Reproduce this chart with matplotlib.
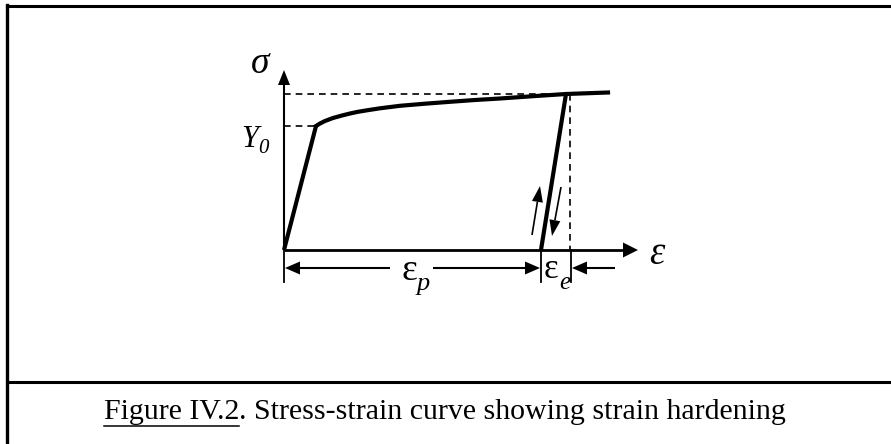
import matplotlib
matplotlib.use("Agg")
import matplotlib.pyplot as plt
from matplotlib.patches import Polygon
import numpy as np

# Schematic stress-strain curve (drawing units: pixels, y downward)
origin = (284, 250)
yield_pt = (316, 126)
harden_x = [316, 320, 325, 333, 342, 350, 358, 367, 380, 400, 425, 450, 475, 500, 533, 566, 608]
harden_y = [126, 123.5, 121, 118, 115.5, 113.5, 111.8, 110.3, 108.3, 105.8, 103.7, 101.8, 100, 98.5, 96.2, 94, 92.5]
unload_top = (566, 94)
unload_bottom = (541, 250)
elastic_end_x = 570
sigma_axis_top = 70
eps_axis_end = 638
dim_y = 268
tick_bottom = 282

caption_link = "Figure IV.2"
caption_rest = ". Stress-strain curve showing strain hardening"

SERIF = ["Liberation Serif", "DejaVu Serif"]

fig = plt.figure(figsize=(8.91, 4.44), dpi=100)
ax = fig.add_axes([0, 0, 1, 1])
ax.set_xlim(0, 891)
ax.set_ylim(444, 0)
ax.axis("off")


def arrow(x0, y0, x1, y1, lw=1.5, hl=15, hw=13):
    """Line from (x0,y0) to (x1,y1) with a filled triangular head at (x1,y1)."""
    d = np.array([x1 - x0, y1 - y0], float)
    L = np.hypot(*d)
    u = d / L
    n = np.array([-u[1], u[0]])
    base = np.array([x1, y1]) - u * hl
    ax.plot([x0, base[0]], [y0, base[1]], color="black", lw=lw,
            solid_capstyle="butt")
    tri = [(x1, y1), tuple(base + n * hw / 2), tuple(base - n * hw / 2)]
    ax.add_patch(Polygon(tri, closed=True, color="black", lw=0))


# frame
ax.plot([7, 7], [5, 444], color="black", lw=2.4, solid_capstyle="projecting")
ax.plot([7, 891], [6, 6], color="black", lw=2.2)
ax.plot([7, 891], [382, 382], color="black", lw=2.2)

# axes
arrow(origin[0], origin[1], origin[0], sigma_axis_top, lw=1.5, hl=15, hw=12)
arrow(origin[0], origin[1], eps_axis_end, origin[1], lw=2.0, hl=15, hw=15)

# dashed guide lines
ax.plot([origin[0], yield_pt[0]], [yield_pt[1], yield_pt[1]], color="black",
        lw=1.2, ls=(0, (4, 3)))
ax.plot([origin[0], unload_top[0]], [unload_top[1], unload_top[1]],
        color="black", lw=1.2, ls=(0, (4, 3)))
ax.plot([elastic_end_x, elastic_end_x], [unload_top[1], origin[1]],
        color="black", lw=1.2, ls=(0, (4, 3)))

# the curve: elastic loading, hardening, elastic unloading
ax.plot([origin[0], yield_pt[0]], [origin[1], yield_pt[1]], color="black",
        lw=3.0, solid_capstyle="butt")
ax.plot(harden_x, harden_y, color="black", lw=3.0, solid_joinstyle="round")
ax.plot([unload_top[0], unload_bottom[0]], [unload_top[1], unload_bottom[1]],
        color="black", lw=3.0, solid_capstyle="butt")

# loading / unloading direction arrows
arrow(532, 235, 540, 186, lw=1.2, hl=16, hw=11)
arrow(561, 187, 552, 236, lw=1.2, hl=16, hw=11)

# extension ticks
for xt in (origin[0], unload_bottom[0], elastic_end_x + 1):
    ax.plot([xt, xt], [origin[1], tick_bottom], color="black", lw=1.3)

# dimension arrows
arrow(390, dim_y, origin[0] + 1, dim_y, lw=1.5, hl=15, hw=13)
arrow(433, dim_y, unload_bottom[0] - 1, dim_y, lw=1.5, hl=15, hw=13)
arrow(615, dim_y, elastic_end_x + 2, dim_y, lw=1.5, hl=15, hw=13)

# labels
ax.text(260, 64, "σ", fontsize=27, style="italic", family=SERIF,
        ha="center", va="center")
ax.text(250, 139, "Y", fontsize=22, style="italic", family=SERIF,
        ha="center", va="center")
ax.text(263, 148, "0", fontsize=15, style="italic", family=SERIF,
        ha="center", va="center")
ax.text(657, 254, "ε", fontsize=28, style="italic", family=SERIF,
        ha="center", va="center")
ax.text(409, 271, "ε", fontsize=27, family=SERIF, ha="center", va="center")
ax.text(423, 284, "p", fontsize=19, style="italic", family=SERIF,
        ha="center", va="center")
ax.text(551, 269, "ε", fontsize=25, family=SERIF, ha="center", va="center")
ax.text(565, 283, "e", fontsize=18, style="italic", family=SERIF,
        ha="center", va="center")

# caption with underlined figure reference
fig.canvas.draw()
r = fig.canvas.get_renderer()
cap_fs = 21.5
t1 = ax.text(0, 412, caption_link, fontsize=cap_fs, family=SERIF,
             ha="left", va="center")
t2 = ax.text(0, 412, caption_rest, fontsize=cap_fs, family=SERIF,
             ha="left", va="center")
w1 = t1.get_window_extent(r).width
w2 = t2.get_window_extent(r).width
x_start = 445 - (w1 + w2) / 2
t1.set_x(x_start)
t2.set_x(x_start + w1)
ax.plot([x_start, x_start + w1], [426, 426], color="black", lw=1.1)

fig.savefig("out.png", dpi=100)
